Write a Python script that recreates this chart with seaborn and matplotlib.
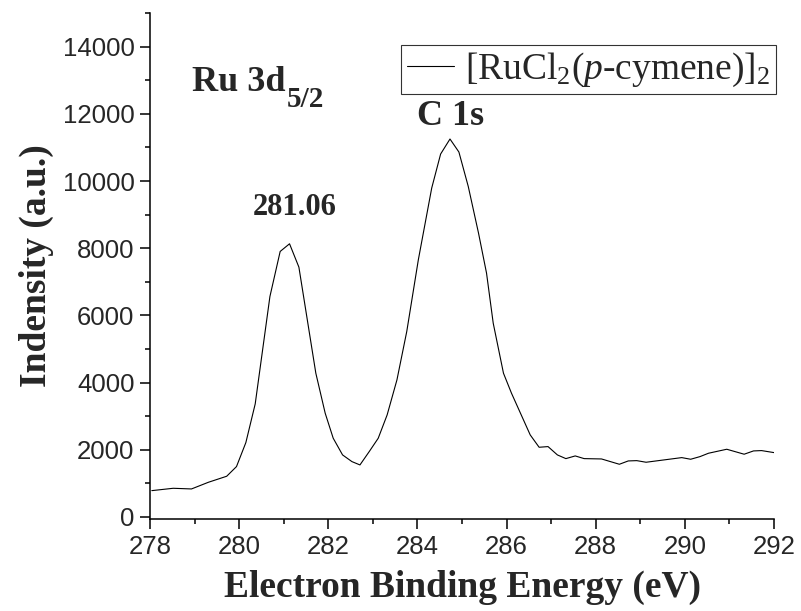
import matplotlib
matplotlib.use("Agg")
import matplotlib.pyplot as plt
from matplotlib.ticker import MultipleLocator
import numpy as np
import pandas as pd
import seaborn as sns

# XPS spectrum
energy = [278.04, 278.52, 278.93, 279.31, 279.72, 279.94, 280.15, 280.36, 280.69,
          280.92, 281.13, 281.34, 281.72, 281.93, 282.11, 282.32, 282.53, 282.71,
          282.92, 283.12, 283.32, 283.54, 283.76, 284.02, 284.32, 284.52, 284.73,
          284.93, 285.14, 285.37, 285.55, 285.70, 285.93, 286.11, 286.53, 286.73,
          286.93, 287.14, 287.33, 287.54, 287.74, 288.13, 288.53, 288.73, 288.92,
          289.13, 289.53, 289.93, 290.13, 290.34, 290.53, 290.94, 291.33, 291.54,
          291.72, 292.00]
intensity = [784, 854, 834, 1033, 1212, 1500, 2214, 3366, 6563,
             7904, 8132, 7437, 4280, 3089, 2344, 1847, 1648, 1549,
             1950, 2344, 3038, 4081, 5520, 7656, 9791, 10804, 11251,
             10864, 9839, 8451, 7259, 5769, 4280, 3684, 2443, 2075,
             2095, 1847, 1737, 1817, 1737, 1727, 1569, 1668, 1677,
             1629, 1698, 1767, 1718, 1797, 1897, 2016, 1868, 1966,
             1976, 1916]
series_name = r"[RuCl$_2$($p$-cymene)]$_2$"

df = pd.DataFrame({"energy": energy, "intensity": intensity, "sample": series_name})

sns.set_style("ticks")
plt.rcParams.update({
    "font.family": ["Liberation Sans", "DejaVu Sans"],
    "mathtext.fontset": "custom",
    "mathtext.rm": "Liberation Serif",
    "mathtext.it": "Liberation Serif:italic",
    "mathtext.bf": "Liberation Serif:bold",
})

fig = plt.figure(figsize=(8.01, 6.11), dpi=100)
ax = fig.add_axes([0.1873, 0.1506, 0.779, 0.828])

sns.lineplot(data=df, x="energy", y="intensity", hue="sample",
             palette=["black"], linewidth=0.8, ax=ax)

ax.set_xlim(278, 292)
ax.set_ylim(-60, 15000)
ax.xaxis.set_major_locator(MultipleLocator(2))
ax.xaxis.set_minor_locator(MultipleLocator(1))
ax.yaxis.set_major_locator(MultipleLocator(2000))
ax.yaxis.set_minor_locator(MultipleLocator(1000))
ax.tick_params(which="major", direction="out", length=7.2, width=1.1,
               labelsize=18.5, pad=4, color="black")
ax.tick_params(which="minor", direction="out", length=3.6, width=1.1, color="black")
sns.despine(ax=ax)
for side in ("left", "bottom"):
    ax.spines[side].set_linewidth(1.1)
    ax.spines[side].set_color("black")

label_font = dict(family="Liberation Serif", weight="bold", size=27)
ax.set_xlabel("Electron Binding Energy (eV)", labelpad=8, **label_font)
ax.set_ylabel("Indensity (a.u.)", labelpad=6, **label_font)

note_font = dict(family="Liberation Serif", weight="bold", size=26)
ax.text(278.94, 12670, "Ru 3d", ha="left", va="baseline", **note_font)
ax.text(281.07, 12213, "5/2", ha="left", va="baseline",
        family="Liberation Serif", weight="bold", size=21)
ax.text(280.30, 9000, "281.06", ha="left", va="baseline",
        family="Liberation Serif", weight="bold", size=22)
ax.text(283.99, 11677, "C 1s", ha="left", va="baseline", **note_font)

leg = ax.legend(loc="upper right", bbox_to_anchor=(0.9688, 0.9264),
                bbox_transform=fig.transFigure, borderaxespad=0,
                frameon=True, fancybox=False, handlelength=1.25,
                handletextpad=0.3, borderpad=0.15,
                prop={"family": "Liberation Serif", "size": 27})
leg.get_frame().set_edgecolor("black")
leg.get_frame().set_linewidth(0.8)

fig.savefig("out.png", dpi=100)
plt.close(fig)
